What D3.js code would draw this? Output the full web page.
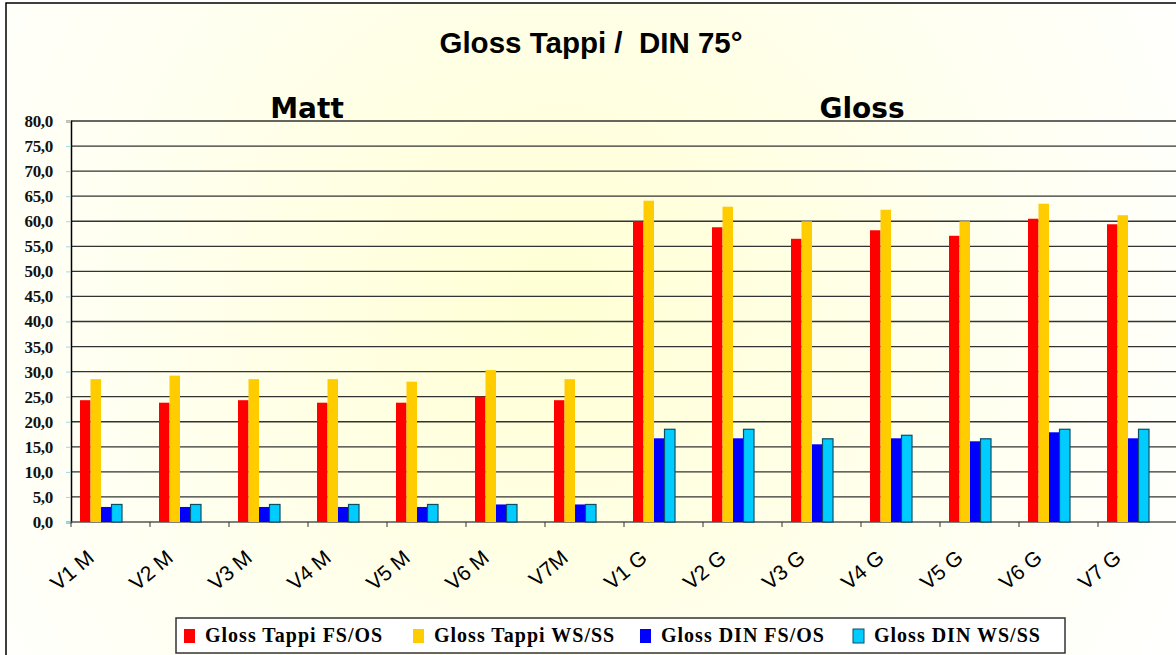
<!DOCTYPE html>
<html>
<head>
<meta charset="utf-8">
<script src="https://cdn.jsdelivr.net/npm/d3@7"></script>
<style>
  body { margin: 0; background: #fff; }
  svg { display: block; }
</style>
</head>
<body>
<script>
// chart data
var categories = ["V1 M", "V2 M", "V3 M", "V4 M", "V5 M", "V6 M", "V7M",
                  "V1 G", "V2 G", "V3 G", "V4 G", "V5 G", "V6 G", "V7 G"];
var seriesNames = ["Gloss Tappi FS/OS", "Gloss Tappi WS/SS", "Gloss DIN FS/OS", "Gloss DIN WS/SS"];
var tappiFS = [24.3, 23.8, 24.3, 23.8, 23.8, 25.0, 24.3, 60.0, 58.8, 56.5, 58.2, 57.1, 60.5, 59.4];
var tappiWS = [28.5, 29.2, 28.5, 28.5, 28.0, 30.3, 28.5, 64.1, 62.9, 60.0, 62.3, 60.0, 63.5, 61.2];
var dinFS   = [3.0, 3.0, 3.0, 3.0, 3.0, 3.5, 3.5, 16.7, 16.7, 15.5, 16.7, 16.1, 17.9, 16.7];
var dinWS   = [3.5, 3.5, 3.5, 3.5, 3.5, 3.5, 3.5, 18.5, 18.5, 16.6, 17.3, 16.6, 18.5, 18.5];
var yTicks = d3.range(0, 80.1, 5);
var groupLabels = ["Matt", "Gloss"];

var colors = ["#ff0000", "#ffcc00", "#0000ff", "#00ccff"];

var width = 1176, height = 655;
var plotLeft = 71, plotRight = 1177, plotTop = 121, plotBottom = 522;

var svg = d3.select("body").append("svg")
  .attr("width", width)
  .attr("height", height);

// background
var defs = svg.append("defs");
var grad = defs.append("radialGradient")
  .attr("id", "bg")
  .attr("gradientUnits", "userSpaceOnUse")
  .attr("cx", 560).attr("cy", 300).attr("r", 720);
grad.append("stop").attr("offset", "0%").attr("stop-color", "#ffffd4");
grad.append("stop").attr("offset", "60%").attr("stop-color", "#fffff0");
grad.append("stop").attr("offset", "100%").attr("stop-color", "#ffffff");

svg.append("rect")
  .attr("x", 6).attr("y", 3)
  .attr("width", 1200).attr("height", 700)
  .attr("fill", "url(#bg)")
  .attr("stroke", "#000")
  .attr("stroke-width", 1.5);

var x = d3.scaleBand().domain(categories).range([plotLeft, plotRight]).padding(0);
var x1 = d3.scaleBand().domain(d3.range(4)).range([9, 51]).padding(0);
var y = d3.scaleLinear().domain([0, 80]).range([plotBottom, plotTop]);

// gridlines
svg.append("g").selectAll("line")
  .data(yTicks.filter(function(d) { return d > 0; }))
  .enter().append("line")
    .attr("x1", plotLeft).attr("x2", width)
    .attr("y1", function(d) { return y(d); })
    .attr("y2", function(d) { return y(d); })
    .attr("stroke", "#333")
    .attr("stroke-width", 1.3);

// y axis
var yAxis = svg.append("g")
  .attr("transform", "translate(" + plotLeft + ",0)")
  .call(d3.axisLeft(y).tickValues(yTicks).tickSize(5)
    .tickFormat(function(d) { return d3.format(".1f")(d).replace(".", ","); }));
yAxis.select(".domain").attr("stroke", "#000").attr("stroke-width", 1.5);
yAxis.selectAll(".tick line").attr("stroke", "#9fd8e6");
yAxis.selectAll(".tick text")
  .attr("x", -18)
  .attr("fill", "#111")
  .style("font-family", "'Liberation Serif', serif")
  .style("font-weight", "bold")
  .style("font-size", "17px")
  .style("letter-spacing", "-0.3px");

// x axis
var xAxis = svg.append("g")
  .attr("transform", "translate(0," + plotBottom + ")");
xAxis.append("line")
  .attr("x1", plotLeft).attr("x2", width)
  .attr("y1", 0).attr("y2", 0)
  .attr("stroke", "#555").attr("stroke-width", 1.5);
xAxis.selectAll(".xt")
  .data(categories)
  .enter().append("line")
    .attr("class", "xt")
    .attr("x1", function(d) { return x(d); })
    .attr("x2", function(d) { return x(d); })
    .attr("y1", 0).attr("y2", 5)
    .attr("stroke", "#333");
xAxis.selectAll(".xl")
  .data(categories)
  .enter().append("text")
    .attr("class", "xl")
    .attr("transform", function(d) {
      return "translate(" + (x(d) + x.bandwidth() / 2 - 15) + ",38) rotate(-40)";
    })
    .attr("text-anchor", "end")
    .style("font-family", "'Liberation Sans', Arial, sans-serif")
    .style("font-size", "21px")
    .attr("fill", "#000")
    .text(function(d) { return d; });

// bars
var series = [tappiFS, tappiWS, dinFS, dinWS];
var bars = svg.append("g");
series.forEach(function(vals, s) {
  bars.selectAll(".s" + s)
    .data(vals)
    .enter().append("rect")
      .attr("class", "s" + s)
      .attr("x", function(d, i) { return x(categories[i]) + x1(s); })
      .attr("y", function(d) { return y(d); })
      .attr("width", x1.bandwidth())
      .attr("height", function(d) { return y(0) - y(d); })
      .attr("fill", colors[s])
      .attr("stroke", s == 3 ? "#0b4f66" : "none")
      .attr("stroke-width", s == 3 ? 1.2 : 0);
});

// titles
svg.append("text")
  .attr("x", 591).attr("y", 53)
  .attr("text-anchor", "middle")
  .style("font-family", "'Liberation Sans', Arial, sans-serif")
  .style("font-weight", "bold")
  .style("font-size", "29.5px")
  .attr("xml:space", "preserve")
  .text("Gloss Tappi /  DIN 75°");

svg.selectAll(".grp")
  .data(groupLabels)
  .enter().append("text")
    .attr("class", "grp")
    .attr("x", function(d, i) { return i == 0 ? 307 : 862; })
    .attr("y", 118)
    .attr("text-anchor", "middle")
    .style("font-family", "'DejaVu Sans', sans-serif")
    .style("font-weight", "bold")
    .style("font-size", "28px")
    .text(function(d) { return d; });

// legend
var legend = svg.append("g");
legend.append("rect")
  .attr("x", 176).attr("y", 618)
  .attr("width", 889).attr("height", 35)
  .attr("fill", "#fff")
  .attr("stroke", "#333")
  .attr("stroke-width", 1.5);
var legX = [184, 413, 640, 853];
seriesNames.forEach(function(name, s) {
  legend.append("rect")
    .attr("x", legX[s]).attr("y", 629)
    .attr("width", 11).attr("height", 14)
    .attr("fill", colors[s])
    .attr("stroke", s == 3 ? "#0b4f66" : "none");
  legend.append("text")
    .attr("x", legX[s] + 21).attr("y", 642)
    .style("font-family", "'Liberation Serif', serif")
    .style("font-weight", "bold")
    .style("font-size", "20px")
    .style("letter-spacing", "1px")
    .text(name);
});
</script>
</body>
</html>
